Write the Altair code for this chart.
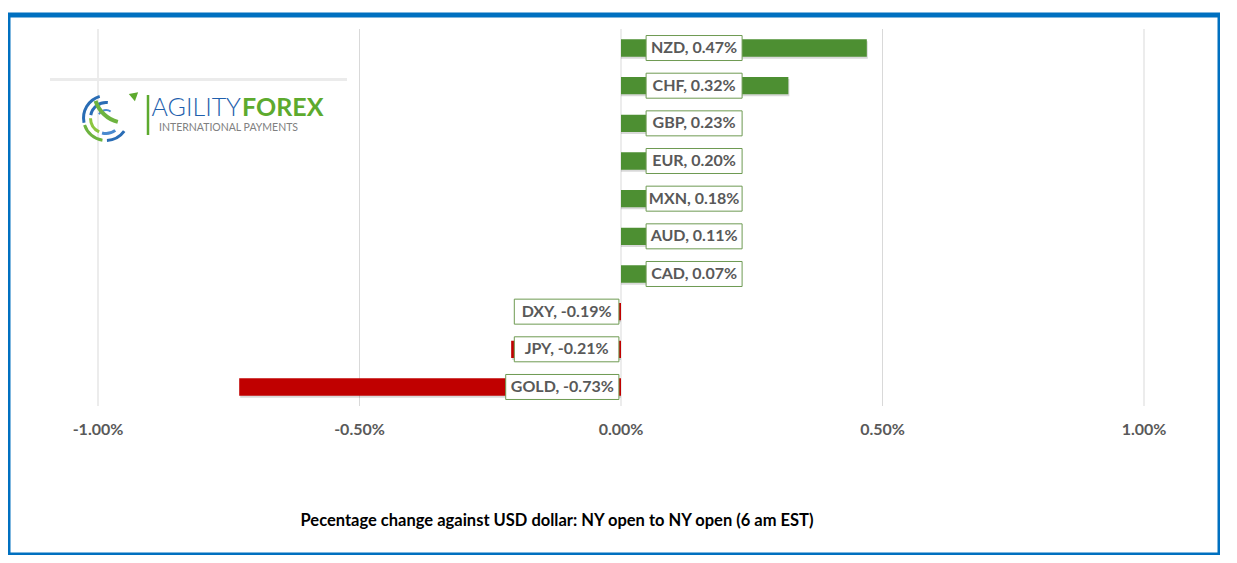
import altair as alt
import pandas as pd

# ---- data ----
currencies = ["NZD", "CHF", "GBP", "EUR", "MXN", "AUD", "CAD", "DXY", "JPY", "GOLD"]
changes = [0.47, 0.32, 0.23, 0.20, 0.18, 0.11, 0.07, -0.19, -0.21, -0.73]
tick_values = [-1.0, -0.5, 0.0, 0.5, 1.0]
tick_labels = ["-1.00%", "-0.50%", "0.00%", "0.50%", "1.00%"]
title_text = "Pecentage change against USD dollar: NY open to NY open  (6 am EST)"

GREEN = "#4D8F32"
RED = "#C00000"
BOX_STROKE = "#6E9A52"
TXT = "#595959"
FONT = "Lato"

df = pd.DataFrame({
    "cur": currencies,
    "val": changes,
    "label": [f"{c}, {v:.2f}%" for c, v in zip(currencies, changes)],
})
ticks = pd.DataFrame({"v": tick_values, "lab": tick_labels})

xs = alt.Scale(domain=[-1, 1], range=[90, 1136], nice=False, zero=False)
ys = alt.Scale(domain=currencies, range=[14.2, 390.8], paddingInner=0.54, paddingOuter=0.27)

X = lambda f: alt.X(f, scale=xs, axis=None)
Y = alt.Y("cur:N", scale=ys, axis=None, sort=currencies)

base = alt.Chart(df).transform_calculate(
    zero="0",
    w="(length(datum.label)*8.6+10)/523",
).transform_calculate(
    bx="datum.val >= 0 ? 0.048 : -0.004 - datum.w",
).transform_calculate(
    bx2="datum.bx + datum.w",
    mid="datum.bx + datum.w/2",
)

grid = alt.Chart(ticks).mark_rule(color="#D9D9D9", strokeWidth=1).encode(
    x=X("v:Q"), y=alt.value(14), y2=alt.value(391)
)

shadow = base.mark_bar(color="#000000", opacity=0.15, yOffset=2, xOffset=1).encode(
    x=X("val:Q"), x2="zero:Q", y=Y,
)

bars = base.mark_bar().encode(
    x=X("val:Q"), x2="zero:Q", y=Y,
    color=alt.condition("datum.val >= 0", alt.value(GREEN), alt.value(RED)),
)

boxes = base.mark_bar(height=25, fill="white", stroke=BOX_STROKE, strokeWidth=1).encode(
    x=X("bx:Q"), x2="bx2:Q", y=Y
)

labels = base.mark_text(font=FONT, fontWeight="bold", fontSize=16, color=TXT,
                        align="center", baseline="middle").encode(
    x=X("mid:Q"), y=Y, text="label:N"
)

tick_text = alt.Chart(ticks).mark_text(font=FONT, fontWeight="bold", fontSize=16, color=TXT,
                                       align="center", baseline="middle").encode(
    x=X("v:Q"), y=alt.value(415), text="lab:N"
)

one = alt.Data(values=[{"k": 1}])

title = alt.Chart(one).mark_text(font=FONT, fontWeight="bold", fontSize=16.5, color="black",
                                 align="center", baseline="middle").encode(
    x=alt.value(549), y=alt.value(506), text=alt.value(title_text)
)

# ---- logo (decoration) ----
sep = alt.Chart(one).mark_rule(color="#EBEBEB", strokeWidth=3).encode(
    x=alt.value(42), x2=alt.value(339), y=alt.value(64.5)
)
vbar = alt.Chart(one).mark_rule(color="#5DAA2E", strokeWidth=2.5).encode(
    x=alt.value(140), y=alt.value(80), y2=alt.value(120)
)
agility = alt.Chart(one).mark_text(font=FONT, fontWeight=300, fontSize=25, color="#1F5FAD",
                                   align="right", baseline="alphabetic").encode(
    x=alt.value(233), y=alt.value(101), text=alt.value("AGILITY")
)
forex = alt.Chart(one).mark_text(font=FONT, fontWeight="bold", fontSize=25, color="#5DAA2E",
                                 align="left", baseline="alphabetic").encode(
    x=alt.value(234), y=alt.value(101), text=alt.value("FOREX")
)
sub = alt.Chart(one).mark_text(font=FONT, fontSize=10.5, color="#808080",
                               align="left", baseline="alphabetic").encode(
    x=alt.value(151), y=alt.value(116), text=alt.value("INTERNATIONAL PAYMENTS")
)

arc_specs = [
    (21, 24, 4.5, 6.0, "#2A6DB5"),
    (14, 17, 4.9, 6.4, "#2A6DB5"),
    (7, 9, 5.2, 6.9, "#4A8ACF"),
    (21, 24, 3.3, 4.4, "#6DB33F"),
    (14, 17, 3.6, 4.7, "#8CC63F"),
    (21, 24, 2.2, 3.1, "#2A6DB5"),
    (14, 17, 2.5, 3.4, "#4A8ACF"),
]
globe_layers = []
for r2, r, t1, t2, c in arc_specs:
    globe_layers.append(
        alt.Chart(one).mark_arc(radius=r, radius2=r2, theta=t1, theta2=t2, color=c).encode(
            x=alt.value(98), y=alt.value(103)
        )
    )
swoosh = alt.Chart(one).mark_arc(radius=34, radius2=30, theta=3.4, theta2=4.4, color="#6DB33F").encode(
    x=alt.value(118), y=alt.value(76)
)
arrow = alt.Chart(one).mark_point(shape="triangle-right", size=90, filled=True, color="#5DAA2E",
                                  angle=320, opacity=1).encode(
    x=alt.value(127), y=alt.value(80)
)

chart = alt.layer(
    grid, shadow, bars, boxes, labels, tick_text, title, sep, vbar, agility, forex, sub,
    *globe_layers, swoosh, arrow
).properties(
    width=1212, height=540,
    padding={"left": 0, "top": 7, "right": 0, "bottom": 0},
    autosize=alt.AutoSizeParams(type="none"),
    background="white",
).configure_view(stroke="#0070C0", strokeWidth=5)

chart.save("out.html", embed_options={"renderer": "svg", "actions": False})
